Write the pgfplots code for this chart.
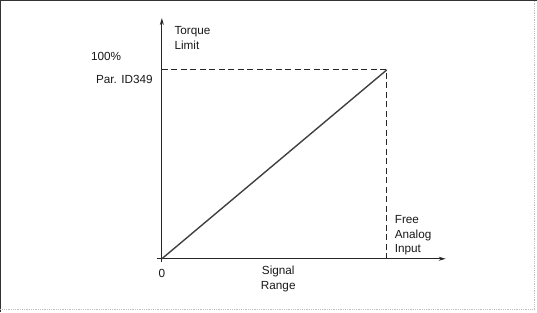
\documentclass[border=0pt]{standalone}
\usepackage{pgfplots}
\pgfplotsset{compat=1.18}
\usepackage{fontspec}
\setmainfont{Liberation Sans}
\usetikzlibrary{arrows.meta}
\begin{document}
\begin{tikzpicture}[x=1bp,y=1bp]
\draw[black!80,line width=1bp] (0.5,0) -- (0.5,311.5) -- (537,311.5);
\draw[black!25,line width=0.8bp,densely dotted] (0.5,2.5) -- (535,2.5) -- (535,311.5);
\begin{axis}[
  at={(162bp,53bp)}, anchor=origin,
  scale only axis, width=289bp, height=244bp,
  xmin=-0.022, xmax=1.262, ymin=-0.016, ymax=1.275,
  axis lines=middle,
  axis line style={black!85,line width=0.9bp,-{Stealth[length=7bp,width=4bp]}},
  xtick=\empty, ytick=\empty,
  clip=false,
]
\addplot[black!75,line width=1.4bp] coordinates {(0,0) (1,1)};
\addplot[black!85,line width=0.9bp,dash pattern=on 6bp off 3.5bp] coordinates {(0,1) (1,1) (1,0)};
\end{axis}
\begin{scope}[every node/.style={font=\fontsize{11.8}{14}\selectfont,text=black!90,inner sep=0pt}]
\node[anchor=base west] at (174.5,277) {Torque};
\node[anchor=base west] at (174.5,262) {Limit};
\node[anchor=base west] at (91,251) {100\%};
\node[anchor=base east] at (153,228) {Par. ID349};
\node[anchor=base west] at (395,88) {Free};
\node[anchor=base west] at (395,73) {Analog};
\node[anchor=base west] at (395,59) {Input};
\node[anchor=base] at (162,34) {0};
\node[anchor=base] at (278.5,37) {Signal};
\node[anchor=base] at (278.5,22) {Range};
\end{scope}
\end{tikzpicture}
\end{document}
